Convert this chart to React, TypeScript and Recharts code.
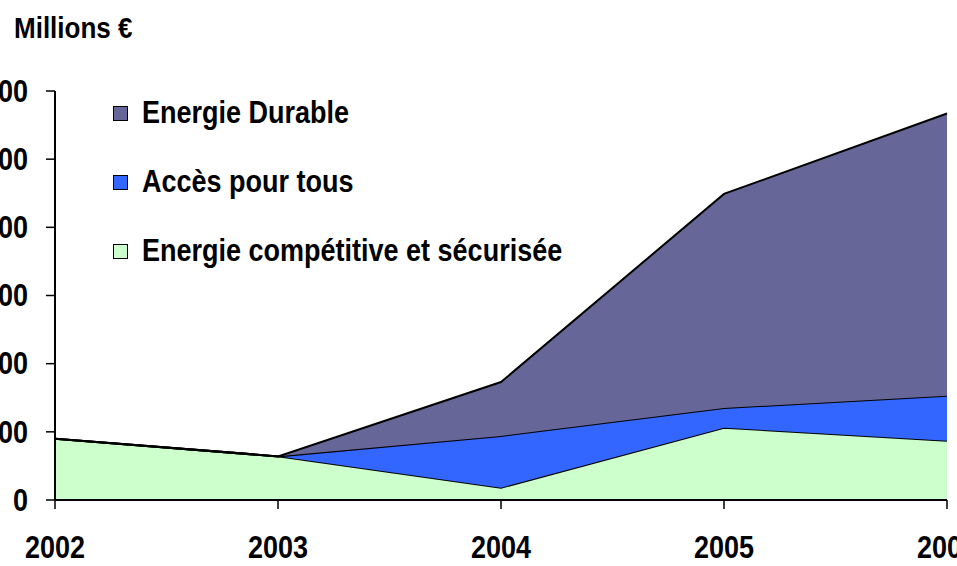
import React from 'react';
import { AreaChart, Area, XAxis, YAxis, Legend } from 'recharts';

const years = ['2002', '2003', '2004', '2005', '2006'];
const competitive = [90, 64, 18, 106, 87];
const accessForAll = [0, 0, 76, 29, 66];
const sustainable = [0, 0, 79, 314, 414];
const yTicks = [0, 100, 200, 300, 400, 500, 600];
const legendOrder = ['Energie Durable', 'Accès pour tous', 'Energie compétitive et sécurisée'];

const chartData = years.map((year, i) => ({
  year,
  competitive: competitive[i],
  access: accessForAll[i],
  sustainable: sustainable[i],
}));

const FONT = "'Liberation Sans', Arial, sans-serif";
const STRETCH = 1.15;

function YTick(props: any) {
  const { x, y, payload } = props;
  return (
    <text
      transform={`translate(${x},${y}) scale(1,${STRETCH})`}
      textAnchor="end"
      dominantBaseline="central"
      fontFamily={FONT}
      fontWeight="bold"
      fontSize={27}
      fill="#000"
    >
      {payload.value}
    </text>
  );
}

function XTick(props: any) {
  const { x, y, payload } = props;
  return (
    <text
      transform={`translate(${x},${y + 38}) scale(1,${STRETCH})`}
      textAnchor="middle"
      dominantBaseline="central"
      fontFamily={FONT}
      fontWeight="bold"
      fontSize={27}
      fill="#000"
    >
      {payload.value}
    </text>
  );
}

function LegendBox(props: any) {
  const items = legendOrder
    .map((name) => (props.payload || []).find((p: any) => p.value === name))
    .filter(Boolean);
  return (
    <div style={{ fontFamily: FONT, fontWeight: 'bold', fontSize: 27 }}>
      {items.map((item: any) => (
        <div
          key={item.value}
          style={{ display: 'flex', alignItems: 'center', height: 69 }}
        >
          <span
            style={{
              display: 'inline-block',
              width: 13,
              height: 13,
              border: '1.5px solid #000',
              background: item.payload?.fill,
              marginRight: 14,
            }}
          />
          <span style={{ display: 'inline-block', transform: `scaleY(${STRETCH})` }}>
            {item.value}
          </span>
        </div>
      ))}
    </div>
  );
}

export default function App() {
  return (
    <div
      style={{
        position: 'fixed',
        left: 0,
        top: 0,
        width: 957,
        height: 566,
        overflow: 'hidden',
        background: '#fff',
      }}
    >
      <div
        style={{
          position: 'absolute',
          left: 14,
          top: 12,
          fontFamily: FONT,
          fontWeight: 'bold',
          fontSize: 26,
          lineHeight: '32px',
          transform: `scaleY(${STRETCH})`,
          transformOrigin: 'left center',
        }}
      >
        Millions €
      </div>
      <div style={{ position: 'absolute', left: -40, top: 0 }}>
        <AreaChart
          width={1040}
          height={566}
          data={chartData}
          margin={{ top: 91, right: 53, bottom: 26, left: 0 }}
        >
          <XAxis
            dataKey="year"
            height={40}
            tick={<XTick />}
            tickSize={9}
            tickMargin={0}
            axisLine={{ stroke: '#000', strokeWidth: 2 }}
            tickLine={{ stroke: '#000', strokeWidth: 1.5 }}
          />
          <YAxis
            width={95}
            domain={[0, 600]}
            ticks={yTicks}
            tick={<YTick />}
            tickSize={9}
            tickMargin={18}
            axisLine={{ stroke: '#000', strokeWidth: 2 }}
            tickLine={{ stroke: '#000', strokeWidth: 1.5 }}
          />
          <Legend
            layout="vertical"
            align="center"
            verticalAlign="middle"
            wrapperStyle={{ left: 153, top: 79, width: 500 }}
            content={<LegendBox />}
          />
          <Area
            type="linear"
            dataKey="competitive"
            name="Energie compétitive et sécurisée"
            stackId="a"
            fill="#CCFFCC"
            fillOpacity={1}
            stroke="#000"
            strokeWidth={2}
            isAnimationActive={false}
          />
          <Area
            type="linear"
            dataKey="access"
            name="Accès pour tous"
            stackId="a"
            fill="#3366FF"
            fillOpacity={1}
            stroke="#000"
            strokeWidth={2}
            isAnimationActive={false}
          />
          <Area
            type="linear"
            dataKey="sustainable"
            name="Energie Durable"
            stackId="a"
            fill="#666699"
            fillOpacity={1}
            stroke="#000"
            strokeWidth={2}
            isAnimationActive={false}
          />
        </AreaChart>
      </div>
    </div>
  );
}
